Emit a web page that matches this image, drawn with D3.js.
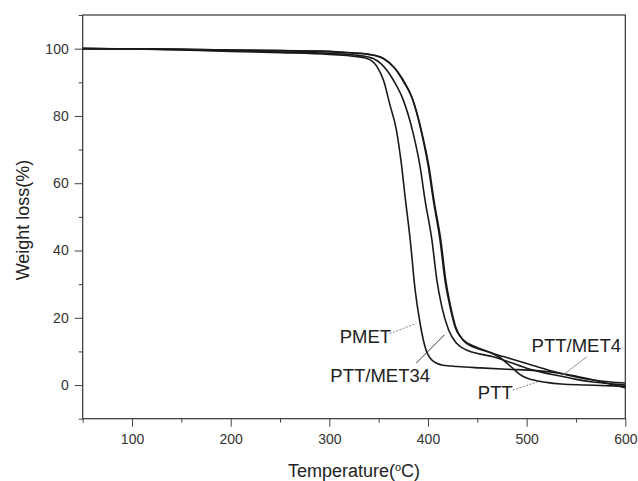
<!DOCTYPE html>
<html>
<head>
<meta charset="utf-8">
<script src="https://cdn.jsdelivr.net/npm/d3@7"></script>
<style>
  body { margin: 0; background: #fff; }
  svg { font-family: "Liberation Sans", Arial, sans-serif; }
  .tick text { fill: #333; font-size: 14px; }
  .axis path { display: none; }
  .axis line { stroke: #444; }
</style>
</head>
<body>
<script>
// Chart size
var svgWidth = 638;
var svgHeight = 481;

var chartMargin = { top: 15, right: 12.7, bottom: 62.3, left: 82.7 };
var chartWidth = svgWidth - chartMargin.left - chartMargin.right;
var chartHeight = svgHeight - chartMargin.top - chartMargin.bottom;

// Tick values
var xMajorTicks = [100, 200, 300, 400, 500, 600];
var xMinorTicks = [50, 150, 250, 350, 450, 550];
var yMajorTicks = [0, 20, 40, 60, 80, 100];
var yMinorTicks = [-10, 10, 30, 50, 70, 90, 110];

// TGA curves: temperature (C) and weight (%)
var pmetT = [50, 100, 150, 200, 250, 300, 320, 338, 348, 355, 361.5, 368, 373, 377, 382, 387, 392, 397, 404, 415, 430, 453, 480, 510, 540, 560, 580, 600];
var pmetW = [100, 99.9, 99.6, 99.2, 98.8, 98.3, 97.9, 97.1, 94.8, 90.5, 83.2, 75.8, 65.8, 55.5, 43.1, 28.2, 18.3, 11.4, 7.4, 5.9, 5.5, 5.1, 4.7, 4.3, 3.2, 2.0, 0.6, -0.8];

var met34T = [50, 100, 150, 200, 250, 300, 330, 345, 352, 365, 375, 385, 392, 397, 404, 409, 414, 421, 429, 439, 453, 466, 483, 500, 517, 534, 550, 567, 585, 600];
var met34W = [100, 99.9, 99.7, 99.4, 99.0, 98.6, 98.0, 97.0, 95.6, 90.6, 84.7, 74.8, 64.9, 55, 43.1, 31.2, 23.3, 16.3, 12.4, 10.4, 9.2, 8.4, 6.8, 5.0, 3.7, 2.7, 1.7, 0.9, 0.4, 0.0];

var met4T = [50, 100, 150, 200, 250, 300, 311, 341, 355, 366.5, 375, 383.5, 393.6, 400.3, 405.4, 412.2, 417.2, 422.3, 427.4, 436, 446, 453, 466, 483, 500, 517, 534, 550, 567, 585, 600];
var met4W = [100, 99.95, 99.8, 99.6, 99.4, 99.2, 99.0, 98.3, 97.1, 94.1, 90.3, 85.6, 74.8, 64.9, 55, 43.1, 31.2, 23.3, 17.3, 13.4, 11.6, 10.8, 9.4, 7.9, 6.4, 4.9, 3.5, 2.4, 1.5, 0.9, 0.6];

var pttT = [50, 100, 150, 200, 250, 300, 311, 341, 355, 366, 375, 384, 394, 401, 406, 413, 418, 423, 428, 436, 446, 453, 466, 473, 480, 487, 493, 500, 510, 520, 535, 560, 600];
var pttW = [100, 99.95, 99.8, 99.6, 99.4, 99.1, 98.9, 98.2, 97.0, 94.3, 90.6, 85.3, 74.8, 64.9, 55, 43.1, 31.2, 23.3, 17.3, 13.2, 11.3, 10.6, 9.3, 8.2, 6.5, 4.7, 3.2, 2.1, 1.3, 0.8, 0.3, 0.0, -0.4];

// Curve labels
var labelNames = ["PMET", "PTT/MET34", "PTT", "PTT/MET4"];

var svg = d3.select("body")
  .append("svg")
  .attr("width", svgWidth)
  .attr("height", svgHeight);

var chartGroup = svg.append("g")
  .attr("transform", `translate(${chartMargin.left}, ${chartMargin.top})`);

var xScale = d3.scaleLinear().domain([50, 600]).range([0, chartWidth]);
var yScale = d3.scaleLinear().domain([-10, 110]).range([chartHeight, 0]);

// minor ticks
chartGroup.append("g")
  .attr("class", "axis")
  .attr("transform", `translate(0, ${chartHeight})`)
  .call(d3.axisBottom(xScale).tickValues(xMinorTicks).tickSize(4).tickFormat(""));
chartGroup.append("g")
  .attr("class", "axis")
  .call(d3.axisLeft(yScale).tickValues(yMinorTicks).tickSize(4).tickFormat(""));

// major ticks
chartGroup.append("g")
  .attr("class", "axis")
  .attr("transform", `translate(0, ${chartHeight})`)
  .call(d3.axisBottom(xScale).tickValues(xMajorTicks).tickSize(8).tickPadding(7));
chartGroup.append("g")
  .attr("class", "axis")
  .call(d3.axisLeft(yScale).tickValues(yMajorTicks).tickSize(8).tickPadding(6));

// frame
chartGroup.append("rect")
  .attr("width", chartWidth)
  .attr("height", chartHeight)
  .attr("fill", "none")
  .attr("stroke", "#333")
  .attr("stroke-width", 1.2);

// curves
var series = [
  { t: pmetT, w: pmetW },
  { t: met34T, w: met34W },
  { t: met4T, w: met4W },
  { t: pttT, w: pttW }
];

var line = d3.line()
  .x(d => xScale(d[0]))
  .y(d => yScale(d[1]))
  .curve(d3.curveMonotoneX);

series.forEach(function(s) {
  chartGroup.append("path")
    .datum(d3.zip(s.t, s.w))
    .attr("fill", "none")
    .attr("stroke", "#1a1a1a")
    .attr("stroke-width", 1.6)
    .attr("d", line);
});

// labels and leaders (data coordinates)
var annotations = [
  { name: labelNames[0], tx: 310.5, ty: 12.4, x1: 361, y1: 15.3, x2: 388, y2: 18.3, dash: "2,1.5", color: "#777" },
  { name: labelNames[1], tx: 301, ty: 0.9, x1: 388, y1: 6.5, x2: 416.6, y2: 14.9, dash: null, color: "#222" },
  { name: labelNames[2], tx: 450.5, ty: -4.2, x1: 486, y1: -1.5, x2: 511.5, y2: 1.0, dash: "2,1.5", color: "#777" },
  { name: labelNames[3], tx: 505, ty: 9.9, x1: 561, y1: 8.4, x2: 537, y2: 3.0, dash: null, color: "#888" }
];

annotations.forEach(function(a) {
  chartGroup.append("line")
    .attr("x1", xScale(a.x1)).attr("y1", yScale(a.y1))
    .attr("x2", xScale(a.x2)).attr("y2", yScale(a.y2))
    .attr("stroke", a.color)
    .attr("stroke-width", 0.9)
    .attr("stroke-dasharray", a.dash);
  chartGroup.append("text")
    .attr("x", xScale(a.tx))
    .attr("y", yScale(a.ty))
    .attr("font-size", "18.5px")
    .attr("fill", "#222")
    .text(a.name);
});

// axis titles
svg.append("text")
  .attr("x", chartMargin.left + chartWidth / 2)
  .attr("y", 477)
  .attr("text-anchor", "middle")
  .attr("font-size", "18px")
  .attr("fill", "#222")
  .html("Temperature(<tspan dy='-6' font-size='11px'>o</tspan><tspan dy='6'>C)</tspan>");

svg.append("text")
  .attr("transform", "rotate(-90)")
  .attr("x", -220)
  .attr("y", 29)
  .attr("text-anchor", "middle")
  .attr("font-size", "18px")
  .attr("fill", "#222")
  .text("Weight loss(%)");
</script>
</body>
</html>
